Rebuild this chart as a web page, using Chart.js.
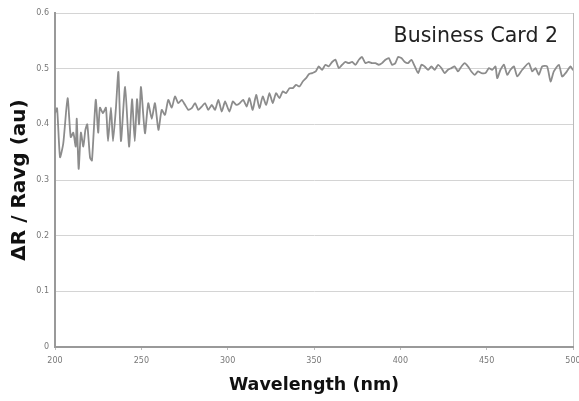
<!DOCTYPE html>
<html>
<head>
<meta charset="utf-8">
<script src="https://cdn.jsdelivr.net/npm/chart.js@4/dist/chart.umd.min.js"></script>
<style>
  html, body { margin: 0; padding: 0; background: #fff; }
  #wrap { width: 579px; height: 401px; }
</style>
</head>
<body>
<div id="wrap"><canvas id="chart" width="579" height="401"></canvas></div>
<script>
// wavelength (nm) and dR/Ravg values
var wavelengths = [
  200, 201.2, 202.9, 204.8, 207.3, 209.1, 210.6, 212, 212.6, 213.7,
  215, 216.4, 217.6, 218.7, 220.3, 221.4, 223.6, 225, 226, 227.8,
  229.5, 230.7, 232.4, 233.6, 235.3, 236.7, 238.2, 240.6, 242.9, 244.6,
  246.2, 247.5, 248.7, 249.8, 252.1, 254, 256, 257.9, 259.9, 261.8,
  263.7, 265.6, 267.6, 269.5, 271.4, 273.4, 275.3, 277.2, 279.2, 281.1,
  283, 285, 286.9, 288.8, 290.8, 292.7, 294.6, 296.6, 298.5, 301,
  303, 305, 307, 309, 311, 312.6, 314.5, 316.5, 318.4, 320.3,
  322.3, 324.2, 326.1, 328, 330, 331.9, 333.8, 335.8, 337.7, 339.6,
  341.6, 343.5, 345.4, 347, 349, 351, 352.7, 354.7, 356.6, 358.5,
  360.5, 362.4, 364.4, 366.3, 368.2, 370.1, 372.1, 374, 376, 377.8,
  379.8, 381.7, 383.6, 385.6, 387.5, 389.4, 391.4, 393.3, 395.2, 397.1,
  398.7, 400.6, 402.6, 404.5, 406.4, 408.4, 410.3, 412.2, 414.1, 416.1,
  418, 419.9, 421.9, 423.8, 425.7, 427.6, 429.6, 431.5, 433.4, 435.4,
  437.3, 439.2, 441.1, 443.1, 445, 446.9, 449.3, 451.3, 453.2, 455.1,
  456.1, 458, 460, 461.9, 463.8, 465.8, 467.7, 470.6, 474.4, 476.4,
  478.3, 480.2, 482.2, 485, 487, 488.9, 491.8, 493.7, 495.7, 498.6,
  500
];
var ratios = [
  0.42, 0.429, 0.341, 0.366, 0.447, 0.377, 0.385, 0.36, 0.41, 0.32,
  0.385, 0.36, 0.39, 0.40, 0.34, 0.335, 0.444, 0.385, 0.43, 0.42,
  0.43, 0.37, 0.43, 0.37, 0.43, 0.494, 0.37, 0.467, 0.36, 0.445,
  0.37, 0.445, 0.40, 0.467, 0.384, 0.438, 0.41, 0.438, 0.39, 0.426,
  0.417, 0.444, 0.43, 0.45, 0.438, 0.444, 0.435, 0.426, 0.429, 0.438,
  0.426, 0.432, 0.438, 0.426, 0.435, 0.426, 0.444, 0.423, 0.441, 0.423,
  0.441, 0.435, 0.438, 0.444, 0.432, 0.447, 0.426, 0.453, 0.429, 0.45,
  0.435, 0.456, 0.438, 0.456, 0.447, 0.459, 0.456, 0.465, 0.465, 0.471,
  0.468, 0.477, 0.483, 0.49, 0.492, 0.495, 0.504, 0.498, 0.507, 0.504,
  0.512, 0.516, 0.501, 0.507, 0.512, 0.51, 0.512, 0.507, 0.516, 0.521,
  0.51, 0.512, 0.51, 0.51, 0.507, 0.51, 0.516, 0.519, 0.507, 0.51,
  0.521, 0.519, 0.512, 0.51, 0.516, 0.504, 0.492, 0.507, 0.504, 0.498,
  0.504, 0.498, 0.507, 0.501, 0.492, 0.498, 0.501, 0.504, 0.495, 0.504,
  0.51, 0.504, 0.495, 0.489, 0.495, 0.492, 0.492, 0.501, 0.498, 0.504,
  0.483, 0.498, 0.507, 0.489, 0.498, 0.504, 0.486, 0.498, 0.51, 0.495,
  0.501, 0.489, 0.504, 0.504, 0.477, 0.495, 0.507, 0.486, 0.492, 0.504,
  0.497
];
var xTicks = [200, 250, 300, 350, 400, 450, 500];
var yTicks = [0, 0.1, 0.2, 0.3, 0.4, 0.5, 0.6];
var chartTitle = 'Business Card 2';

var points = wavelengths.map(function(w, i) { return {x: w, y: ratios[i]}; });

// title sits inside the plot, top right
var insideTitle = {
  id: 'insideTitle',
  afterDraw: function(chart) {
    var ctx = chart.ctx, area = chart.chartArea;
    ctx.save();
    ctx.font = '20.5px "DejaVu Sans"';
    ctx.fillStyle = '#222';
    ctx.textAlign = 'right';
    ctx.textBaseline = 'alphabetic';
    ctx.fillText(chartTitle, area.right - 15, area.top + 29);
    ctx.restore();
  }
};

new Chart(document.getElementById('chart'), {
  type: 'line',
  data: {
    datasets: [{
      data: points,
      borderColor: '#8c8c8c',
      borderWidth: 1.8,
      pointRadius: 0,
      tension: 0.2,
      fill: false
    }]
  },
  options: {
    responsive: false,
    animation: false,
    events: [],
    layout: {
      autoPadding: false,
      padding: { left: 0, right: 6, top: 13, bottom: 0 }
    },
    plugins: {
      legend: { display: false },
      tooltip: { enabled: false }
    },
    scales: {
      x: {
        type: 'linear',
        min: 200,
        max: 500,
        afterFit: function(scale) {
          scale.height = 54;
          scale.paddingLeft = 0;
          scale.paddingRight = 0;
        },
        afterBuildTicks: function(scale) {
          scale.ticks = xTicks.map(function(v) { return {value: v}; });
        },
        ticks: {
          font: { family: 'DejaVu Sans', size: 8 },
          color: '#777',
          padding: 6,
          maxRotation: 0
        },
        grid: {
          drawOnChartArea: true,
          color: function(c) { return c.index === xTicks.length - 1 ? '#bbb' : 'rgba(0,0,0,0)'; },
          tickColor: '#bbb',
          tickLength: 3
        },
        border: { color: '#999', width: 2 },
        title: {
          display: true,
          text: 'Wavelength (nm)',
          font: { family: 'DejaVu Sans', size: 17.5, weight: 'bold' },
          color: '#111',
          padding: { top: 0, bottom: 5 }
        }
      },
      y: {
        min: 0,
        max: 0.6,
        afterFit: function(scale) {
          scale.width = 55;
          scale.paddingTop = 0;
          scale.paddingBottom = 0;
        },
        afterBuildTicks: function(scale) {
          scale.ticks = yTicks.map(function(v) { return {value: v}; });
        },
        ticks: {
          font: { family: 'DejaVu Sans', size: 8 },
          color: '#777',
          padding: 6,
          callback: function(v) { return String(Math.round(v * 10) / 10); }
        },
        grid: { color: '#d4d4d4', lineWidth: 1, drawTicks: false },
        border: { color: '#999', width: 2 },
        title: {
          display: true,
          text: 'ΔR / Ravg (au)',
          font: { family: 'DejaVu Sans', size: 20, weight: 'bold' },
          color: '#111',
          padding: { top: 8, bottom: 0 }
        }
      }
    }
  },
  plugins: [insideTitle]
});
</script>
</body>
</html>
